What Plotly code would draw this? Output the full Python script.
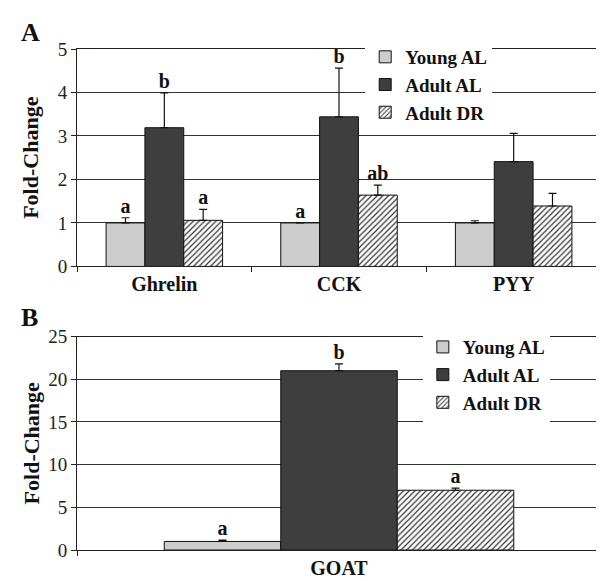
import plotly.graph_objects as go

# ---------------- data ----------------
categories_a = ["Ghrelin", "CCK", "PYY"]
young_al_a = [1.0, 1.0, 1.0]
young_al_a_err = [0.12, 0.0, 0.05]
adult_al_a = [3.19, 3.44, 2.41]
adult_al_a_err = [0.80, 1.12, 0.65]
adult_dr_a = [1.06, 1.64, 1.39]
adult_dr_a_err = [0.25, 0.23, 0.29]
letters_young_a = ["a", "a", ""]
letters_al_a = ["b", "b", ""]
letters_dr_a = ["a", "ab", ""]

categories_b = ["GOAT"]
young_al_b = [1.0]
young_al_b_err = [0.15]
adult_al_b = [21.0]
adult_al_b_err = [0.8]
adult_dr_b = [7.0]
adult_dr_b_err = [0.25]
letters_young_b = ["a"]
letters_al_b = ["b"]
letters_dr_b = ["a"]

series_names = ["Young AL", "Adult AL", "Adult DR"]
yticks_a = [0, 1, 2, 3, 4, 5]
yticks_b = [0, 5, 10, 15, 20, 25]

# ---------------- style ----------------
SERIF = "Liberation Serif, Times New Roman, serif"
BOLD = dict(family=SERIF, size=20, color="#111111", weight="bold")
LEGEND_FONT = dict(family=SERIF, size=19, color="#111111", weight="bold")
COLORS = ["#cdcdcd", "#3e3e3e", "#ffffff"]

fig = go.Figure()


def add_panel(cats, vals, errs, letters, xa, ya, legend, show):
    for i, (name, v, e, lt) in enumerate(zip(series_names, vals, errs, letters)):
        marker = dict(color=COLORS[i], line=dict(color="#111111", width=1))
        if i == 2:
            marker["pattern"] = dict(shape="/", fgcolor="#333333", bgcolor="#ffffff",
                                     size=4, solidity=0.3, fillmode="replace")
        fig.add_trace(go.Bar(
            x=cats, y=v, name=name, marker=marker, xaxis=xa, yaxis=ya,
            offsetgroup=str(i), legend=legend, showlegend=show,
            error_y=dict(type="data", symmetric=False, array=e,
                         arrayminus=[0] * len(e), color="#111111",
                         thickness=1.2, width=4),
        ))
        fig.add_trace(go.Scatter(
            x=cats, y=[a + b for a, b in zip(v, e)], text=lt, mode="text",
            textposition="top center", textfont=BOLD, xaxis=xa, yaxis=ya,
            offsetgroup=str(i), showlegend=False, cliponaxis=False,
            hoverinfo="skip",
        ))


add_panel(categories_a,
          [young_al_a, adult_al_a, adult_dr_a],
          [young_al_a_err, adult_al_a_err, adult_dr_a_err],
          [letters_young_a, letters_al_a, letters_dr_a],
          "x", "y", "legend", True)
add_panel(categories_b,
          [young_al_b, adult_al_b, adult_dr_b],
          [young_al_b_err, adult_al_b_err, adult_dr_b_err],
          [letters_young_b, letters_al_b, letters_dr_b],
          "x2", "y2", "legend2", True)

axis_common = dict(showline=True, linecolor="#222222", linewidth=1, mirror=True,
                   ticks="outside", ticklen=5, tickcolor="#222222")
yfont = dict(family=SERIF, size=19, color="#222222")
title_font = dict(family=SERIF, size=22, color="#111111")

fig.update_layout(
    width=604, height=581,
    margin=dict(l=69, r=10, t=41, b=33),
    paper_bgcolor="white", plot_bgcolor="white",
    barmode="group", bargap=0.333, bargroupgap=0,
    scattermode="group", scattergap=0.333,
    font=dict(family=SERIF, color="#222222"),
    xaxis=dict(domain=[0, 1], anchor="y", tickson="boundaries",
               tickfont=BOLD, showgrid=False, **axis_common),
    yaxis=dict(domain=[0.566, 1], anchor="x", range=[0, 5], tickvals=yticks_a,
               tickfont=yfont, showgrid=True, gridcolor="#333333", gridwidth=1,
               title=dict(text="<b>Fold-Change</b>", font=title_font, standoff=12),
               **axis_common),
    xaxis2=dict(domain=[0, 1], anchor="y2", tickson="boundaries",
                tickfont=BOLD, showgrid=False, **axis_common),
    yaxis2=dict(domain=[0, 0.426], anchor="x2", range=[0, 25], tickvals=yticks_b,
                tickfont=yfont, showgrid=True, gridcolor="#333333", gridwidth=1,
                title=dict(text="<b>Fold-Change</b>", font=title_font, standoff=2),
                **axis_common),
    legend=dict(x=0.55, y=1.022, xanchor="left", yanchor="top",
                bgcolor="white", font=LEGEND_FONT, tracegroupgap=0, itemwidth=30,
                borderwidth=0),
    legend2=dict(x=0.66, y=0.443, xanchor="left", yanchor="top",
                 bgcolor="white", font=LEGEND_FONT, tracegroupgap=0, itemwidth=30,
                 borderwidth=0),
)

fig.add_annotation(text="<b>A</b>", xref="paper", yref="paper", x=-0.11, y=1.033,
                   xanchor="left", yanchor="middle", showarrow=False,
                   font=dict(family=SERIF, size=26, color="#111111"))
fig.add_annotation(text="<b>B</b>", xref="paper", yref="paper", x=-0.11, y=0.4635,
                   xanchor="left", yanchor="middle", showarrow=False,
                   font=dict(family=SERIF, size=26, color="#111111"))

fig.write_html("out.html")
